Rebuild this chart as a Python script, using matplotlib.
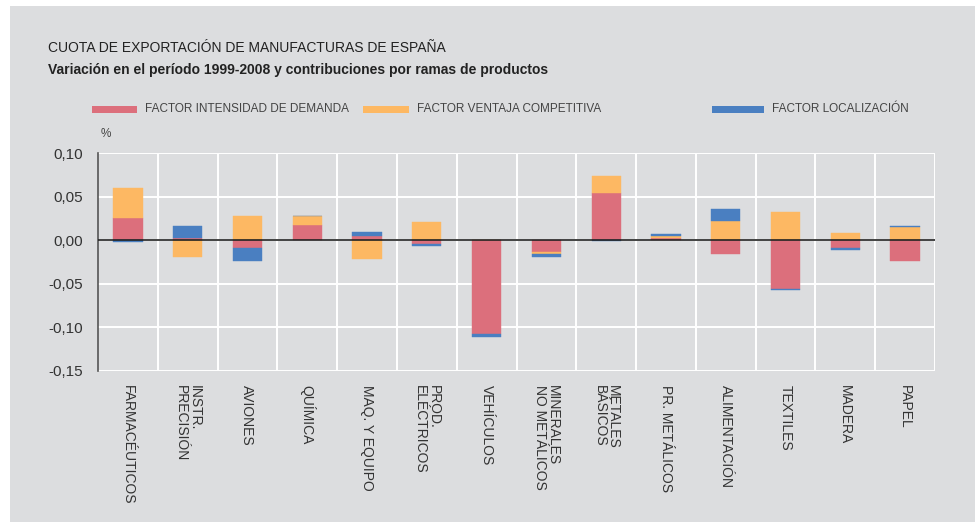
import numpy as np
import matplotlib
matplotlib.use("Agg")
import matplotlib.pyplot as plt
from matplotlib.patches import Rectangle
from matplotlib.ticker import FixedLocator

plt.rcParams['font.family'] = ['Liberation Sans', 'DejaVu Sans']

categories = ["FARMACÉUTICOS", "INSTR.\nPRECISIÓN", "AVIONES", "QUÍMICA", "MAQ. Y EQUIPO",
              "PROD.\nELÉCTRICOS", "VEHÍCULOS", "MINERALES\nNO METÁLICOS", "METALES\nBÁSICOS",
              "PR. METÁLICOS", "ALIMENTACIÓN", "TEXTILES", "MADERA", "PAPEL"]
demanda = [0.026, 0.003, -0.0085, 0.018, 0.0046, -0.004, -0.108, -0.0138, 0.0546,
           0.0023, -0.0154, -0.0558, -0.0088, -0.024]
ventaja = [0.034, -0.019, 0.028, 0.010, -0.022, 0.021, 0.0005, -0.0023, 0.0185,
           0.003, 0.0215, 0.032, 0.0077, 0.0146]
localizacion = [-0.0015, 0.013, -0.015, 0.0, 0.005, -0.0027, -0.003, -0.003, -0.001,
                0.0015, 0.0138, -0.0015, -0.002, 0.0015]
series_names = ["FACTOR INTENSIDAD DE DEMANDA", "FACTOR VENTAJA COMPETITIVA", "FACTOR LOCALIZACIÓN"]
yticks = [0.10, 0.05, 0.0, -0.05, -0.10, -0.15]
ytick_labels = ["0,10", "0,05", "0,00", "-0,05", "-0,10", "-0,15"]

colors = ["#dc6f7c", "#fdb863", "#4a7fc1"]
bg = "#dcdddf"

fig = plt.figure(figsize=(9.75, 5.22), dpi=100)
fig.patch.set_facecolor("white")
fig.patches.append(Rectangle((10/975, 0), 1 - 10/975, 1 - 6/522, transform=fig.transFigure,
                             facecolor=bg, edgecolor="none", zorder=-10))

ax = fig.add_axes([98/975, 1 - 371/522, (935 - 98)/975, (371 - 153)/522])
ax.set_zorder(5)
ax.set_facecolor(bg)

x = np.arange(len(categories))
pos = np.zeros(len(categories))
neg = np.zeros(len(categories))
for vals, c in zip([demanda, ventaja, localizacion], colors):
    v = np.array(vals)
    bottoms = np.where(v >= 0, pos, neg)
    ax.bar(x, v, 0.49, bottom=bottoms, color=c, edgecolor=c, linewidth=0.3, zorder=3)
    pos = pos + np.where(v >= 0, v, 0)
    neg = neg + np.where(v < 0, v, 0)

ax.set_xlim(-0.5, len(categories) - 0.5)
ax.set_ylim(-0.15, 0.10)
ax.set_yticks(yticks)
ax.set_yticklabels(ytick_labels)
ax.set_xticks(x)
ax.set_xticklabels(categories, rotation=270, ha="center", va="top", rotation_mode="default",
                   fontsize=10, color="#333333", linespacing=0.95, multialignment="left")
ax.xaxis.set_minor_locator(FixedLocator(np.arange(0.5, len(categories), 1.0)))
ax.tick_params(axis="both", which="both", length=0)
ax.tick_params(axis="y", labelsize=11, labelcolor="#333333", pad=11)
ax.tick_params(axis="x", pad=10)

ax.grid(axis="y", which="major", color="white", linewidth=1.4, zorder=1)
ax.grid(axis="x", which="minor", color="white", linewidth=1.4, zorder=1)
ax.grid(axis="x", which="major", visible=False)
ax.set_axisbelow(True)
for s in ["top", "right", "bottom"]:
    ax.spines[s].set_visible(False)
ax.spines["left"].set_color("#555555")
ax.spines["left"].set_linewidth(1.2)
ax.axhline(0, color="#222222", linewidth=1.2, zorder=5)
ax.axvline(len(categories) - 0.5, color="white", linewidth=1.4, zorder=1)

fig.text(48/975, 1 - 48/522, "CUOTA DE EXPORTACIÓN DE MANUFACTURAS DE ESPAÑA",
         fontsize=10, color="#222222", va="center", ha="left")
fig.text(48/975, 1 - 70/522, "Variación en el período 1999-2008 y contribuciones por ramas de productos",
         fontsize=10, color="#222222", va="center", ha="left", fontweight="semibold")

leg_x = [92, 363, 712]
leg_w = [45, 46, 52]
for lx, lw, c, name in zip(leg_x, leg_w, colors, series_names):
    fig.patches.append(Rectangle((lx/975, 1 - 113/522), lw/975, 7/522, transform=fig.transFigure,
                                 facecolor=c, edgecolor="none", zorder=2))
    fig.text((lx + lw + 8)/975, 1 - 109.5/522, name, fontsize=8.5, color="#444444",
             va="center", ha="left")

fig.text(101/975, 1 - 134/522, "%", fontsize=8.5, color="#444444", va="center", ha="left")

fig.savefig("out.png", dpi=100, facecolor=fig.get_facecolor())
